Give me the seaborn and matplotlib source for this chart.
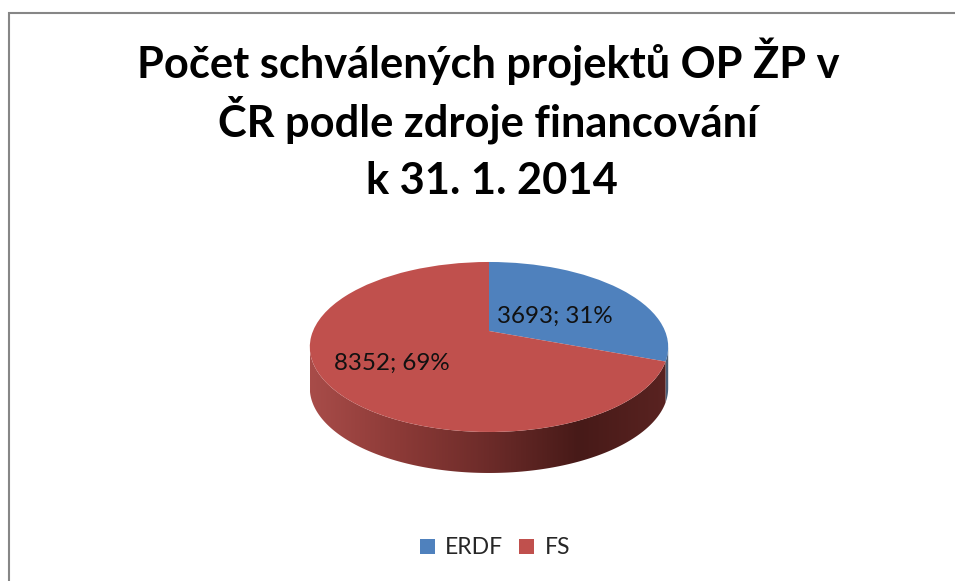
import numpy as np
import matplotlib
matplotlib.use("Agg")
import matplotlib.pyplot as plt
import matplotlib.transforms as mtransforms
from matplotlib.colors import LinearSegmentedColormap
from matplotlib.patches import Polygon
import seaborn as sns

categories = ["ERDF", "FS"]
values = [3693, 8352]
percent_labels = ["31%", "69%"]
title_lines = ["Počet schválených projektů OP ŽP v", "ČR podle zdroje financování", "k 31. 1. 2014"]

sns.set_theme(style="white")
plt.rcParams["font.family"] = ["Lato", "DejaVu Sans"]
palette = sns.color_palette(["#4F81BD", "#C0504D"])

CX, CY, B, A, K, DEPTH = 489.0, 331.0, 176.0, 82.0, 0.188, 41.0


class Perspective(mtransforms.Transform):
    """Tilts the unit-circle pie into the perspective of the 3D disc (output in pixels)."""
    input_dims = 2
    output_dims = 2
    is_separable = False
    has_inverse = False

    def transform_non_affine(self, xy):
        xy = np.asarray(xy, dtype=float)
        u, v = xy[:, 0], -xy[:, 1]
        d = 1 - K * v
        return np.column_stack([CX + B * u / d, CY + A * v / d])


fig = plt.figure(figsize=(9.55, 5.81), dpi=100, facecolor="white")
ax = fig.add_axes([0, 0, 1, 1])

wedges, _ = ax.pie(values, colors=palette, startangle=90, counterclock=False,
                   radius=1, center=(0, 0), wedgeprops={"linewidth": 0})
persp = Perspective()
for w in wedges:
    w.set_transform(persp + ax.transData)
    w.set_zorder(3)


def side_polygon(t0, t1):
    t = np.radians(np.linspace(t0, t1, 160))
    top = persp.transform_non_affine(np.column_stack([np.sin(t), np.cos(t)]))
    low = top + [0, DEPTH]
    return np.vstack([top, low[::-1]])


split = 360 * values[0] / sum(values)
side_cmap = LinearSegmentedColormap.from_list(
    "side", ["#A84C49", "#8C3A37", "#6C2B29", "#471A18", "#5A2321"])
grad = np.linspace(0, 1, 256).reshape(1, -1)
img = ax.imshow(grad, cmap=side_cmap, extent=(310, 668, 480, 340), aspect="auto", zorder=1)
red_side = Polygon(side_polygon(split, 259), closed=True, transform=ax.transData, fc="none", ec="none")
ax.add_patch(red_side)
img.set_clip_path(red_side)
ax.add_patch(Polygon(side_polygon(101, split), closed=True, fc="#4A5F78", ec="none", zorder=0.5))

ax.set_aspect("auto")
ax.set_xlim(0, 955)
ax.set_ylim(581, 0)
ax.axis("off")

ax.text(555, 316, f"{values[0]}; {percent_labels[0]}", ha="center", va="center",
        fontsize=17.4, color="#111111", zorder=5)
ax.text(391.5, 363, f"{values[1]}; {percent_labels[1]}", ha="center", va="center",
        fontsize=17.4, color="#111111", zorder=5)

for line, x, y in zip(title_lines, [488, 488, 492], [78, 137, 194]):
    ax.text(x, y, line, ha="center", va="baseline", fontsize=31.2,
            fontweight="bold", color="black", zorder=5)

# chart frame, visible along the top and left only
ax.plot([9, 9, 955], [581, 13, 13], color="#868686", lw=1.5, solid_joinstyle="miter", clip_on=False)

leg = ax.legend(wedges, categories, ncol=2, loc="center", bbox_to_anchor=(495 / 955, 1 - 548 / 581),
                frameon=False, fontsize=16.5, handlelength=0.66, handleheight=0.66,
                handletextpad=0.45, columnspacing=0.7, labelspacing=0)

fig.savefig("out.png", dpi=100, facecolor="white")
